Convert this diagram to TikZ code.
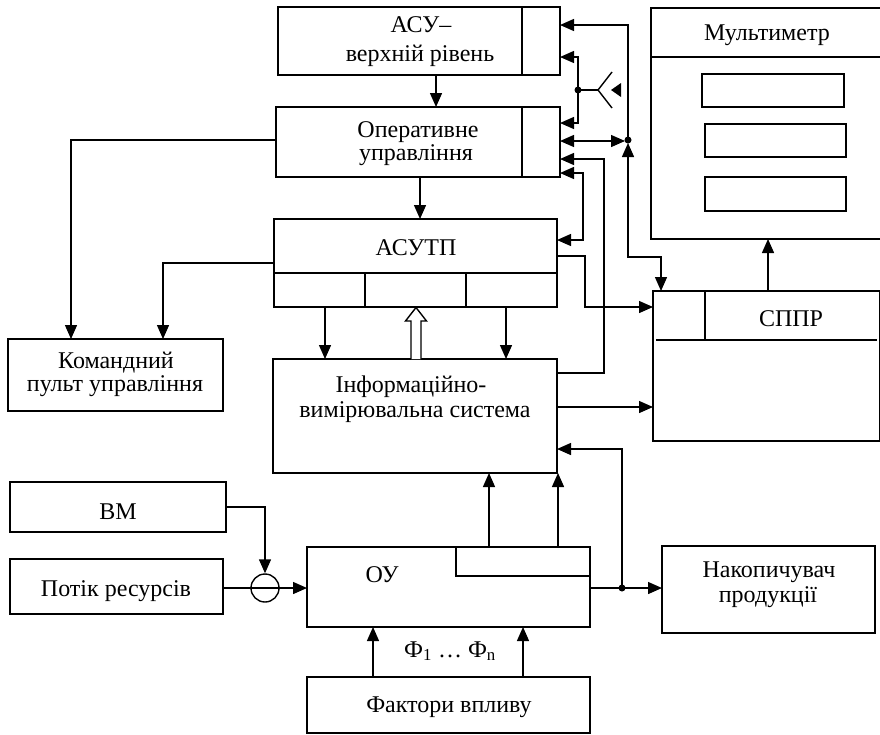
\documentclass[tikz,border=0pt]{standalone}
\usepackage{fontspec}
\setmainfont{Liberation Serif}
\usetikzlibrary{arrows.meta}
\begin{document}
\begin{tikzpicture}[x=1pt,y=-1pt,
  box/.style={draw, line width=1.4pt, inner sep=0pt, outer sep=0pt, anchor=north west},
  ibox/.style={draw, line width=2.4pt, inner sep=0pt, outer sep=0pt, anchor=north west},
  lbl/.style={font=\fontsize{24}{27}\selectfont, inner sep=0pt, anchor=base},
  arr/.style={-{Triangle[length=14pt,width=12pt]}, line width=1.4pt},
  arrb/.style={{Triangle[length=14pt,width=12pt]}-{Triangle[length=14pt,width=12pt]}, line width=1.4pt},
  ln/.style={line width=1.4pt},
  dot/.style={circle, fill, inner sep=0pt, minimum size=7pt}
]
\useasboundingbox (0,0) rectangle (880,734);

% boxes
\node[box, minimum width=282pt, minimum height=68pt] (asu) at (278,7) {};
\node[box, minimum width=284pt, minimum height=70pt] (op) at (276,107) {};
\node[box, minimum width=283pt, minimum height=88pt] (asutp) at (274,219) {};
\node[box, minimum width=284pt, minimum height=114pt] (ivs) at (273,359) {};
\node[box, minimum width=215pt, minimum height=72pt] (kom) at (8,339) {};
\node[box, minimum width=216pt, minimum height=50pt] (vm) at (10,482) {};
\node[box, minimum width=213pt, minimum height=55pt] (potik) at (10,559) {};
\node[box, minimum width=283pt, minimum height=80pt] (ou) at (307,547) {};
\node[box, minimum width=283pt, minimum height=56pt] (fakt) at (307,677) {};
\node[box, minimum width=213pt, minimum height=87pt] (nak) at (662,546) {};
\node[box, minimum width=234pt, minimum height=231pt] (mult) at (651,8) {};
\node[box, minimum width=226.5pt, minimum height=150pt] (sppr) at (653,291) {};
\node[ibox, minimum width=142pt, minimum height=33pt] (m1) at (702,74) {};
\node[ibox, minimum width=141pt, minimum height=33pt] (m2) at (705,124) {};
\node[ibox, minimum width=141pt, minimum height=34pt] (m3) at (705,177) {};
\node[circle, draw, line width=1.4pt, minimum size=28pt, inner sep=0pt] (sum) at (265,588) {};

% inner lines
\draw[ln] (asu.north -| 522,0) -- (asu.south -| 522,0);
\draw[ln] (op.north -| 522,0) -- (op.south -| 522,0);
\draw[ln] (asutp.west |- 0,273) -- (asutp.east |- 0,273);
\draw[ln] (365,273) -- (asutp.south -| 365,0);
\draw[ln] (466,273) -- (asutp.south -| 466,0);
\draw[ln] (ou.north -| 456,0) -- (456,576) -- (ou.east |- 0,576);
\draw[ln] (mult.west |- 0,57) -- (mult.east |- 0,57);
\draw[ln] (656,340) -- (877,340);
\draw[ln] (sppr.north -| 705,0) -- (705,340);

% labels
\node[lbl] (t1) at (421,32) {АСУ–};
\node[lbl] (t2) at (420,61) {верхній рівень};
\node[lbl] (t3) at (418,137) {Оперативне};
\node[lbl] (t4) at (416,160) {управління};
\node[lbl] (t5) at (416,255) {АСУТП};
\node[lbl] (t6) at (411,392) {Інформаційно-};
\node[lbl] (t7) at (415,417) {вимірювальна система};
\node[lbl] (t8) at (116,368) {Командний};
\node[lbl] (t9) at (115,391) {пульт управління};
\node[lbl] (t10) at (118,519) {ВМ};
\node[lbl] (t11) at (116,596) {Потік ресурсів};
\node[lbl] (t12) at (382,582) {ОУ};
\node[lbl] (t13) at (450,657) {Ф\textsubscript{1} … Ф\textsubscript{n}};
\node[lbl] (t14) at (449,712) {Фактори впливу};
\node[lbl] (t15) at (769,577) {Накопичувач};
\node[lbl] (t16) at (768,602) {продукції};
\node[lbl] (t17) at (767,40) {Мультиметр};
\node[lbl] (t18) at (791,326) {СППР};

% connectors
\draw[arr] (asu.south -| 436,0) -- (op.north -| 436,0);
\draw[arr] (op.south -| 420,0) -- (asutp.north -| 420,0);
\draw[arr] (op.west |- 0,140) -| (kom.north -| 71,0);
\draw[arr] (asutp.west |- 0,263) -| (kom.north -| 163,0);
\draw[arr] (asutp.south -| 325,0) -- (ivs.north -| 325,0);
\draw[arr] (asutp.south -| 506,0) -- (ivs.north -| 506,0);
\draw[ln, fill=white, line join=miter] (411,359) -- (411,321) -- (405.5,321) -- (416,307.5) -- (426.5,321) -- (421,321) -- (421,359);
\draw[arr] (ivs.east |- 0,407) -- (sppr.west |- 0,407);
\draw[arr] (ivs.east |- 0,373) -- (604,373) -- (604,159) -- (op.east |- 0,159);
\draw[arr] (asutp.east |- 0,256) -- (585,256) -- (585,307) -- (sppr.west |- 0,307);
\draw[arrb] (asutp.east |- 0,240) -- (583,240) -- (583,173) -- (op.east |- 0,173);

% antenna
\coordinate (ant) at (578,90);
\draw[arr] (ant) |- (asu.east |- 0,57);
\draw[arr] (ant) |- (op.east |- 0,123);
\node[dot] (d1) at (ant) {};
\draw[ln] (ant) -- (598,90);
\draw[ln] (612,72) -- (598,90) -- (612,108);
\fill (611,90) -- (621,83) -- (621,97) -- cycle;

% SPPR links
\coordinate (jn) at (628,140);
\draw[arr] (jn) |- (asu.east |- 0,25);
\draw[arrb] (op.east |- 0,141) -- (625,141);
\draw[arrb] (sppr.north -| 661,0) |- (628,257) -- (628,143);
\node[dot] (d2) at (jn) {};
\draw[arr] (sppr.north -| 768,0) -- (mult.south -| 768,0);

% bottom part
\draw[arr] (ou.east |- 0,588) -- (nak.west |- 0,588);
\coordinate (jo) at (622,588);
\draw[arr] (jo) |- (ivs.east |- 0,449);
\node[dot] (d3) at (jo) {};
\draw[arr] (ou.north -| 489,0) -- (ivs.south -| 489,0);
\draw[arr] (ou.north -| 558,0) -- (ivs.south -| 558,0);
\draw[arr] (vm.east |- 0,507) -| (sum.north);
\draw[arr] (potik.east |- 0,588) -- (ou.west |- 0,588);
\draw[arr] (fakt.north -| 373,0) -- (ou.south -| 373,0);
\draw[arr] (fakt.north -| 523,0) -- (ou.south -| 523,0);
\end{tikzpicture}
\end{document}
